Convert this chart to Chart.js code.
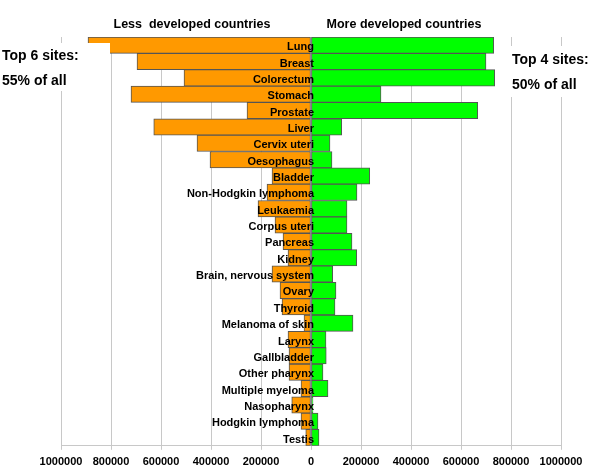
<!DOCTYPE html>
<html>
<head>
<meta charset="utf-8">
<script src="https://cdn.jsdelivr.net/npm/chart.js@4"></script>
<style>
  html, body { margin: 0; padding: 0; background: #fff; }
  #wrap { width: 600px; height: 471px; position: relative; }
</style>
</head>
<body>
<div id="wrap"><canvas id="chart"></canvas></div>
<script>
// Cancer sites, top to bottom
const sites = ['Lung', 'Breast', 'Colorectum', 'Stomach', 'Prostate', 'Liver', 'Cervix uteri',
  'Oesophagus', 'Bladder', 'Non-Hodgkin lymphoma', 'Leukaemia', 'Corpus uteri', 'Pancreas',
  'Kidney', 'Brain, nervous system', 'Ovary', 'Thyroid', 'Melanoma of skin', 'Larynx',
  'Gallbladder', 'Other pharynx', 'Multiple myeloma', 'Nasopharynx', 'Hodgkin lymphoma', 'Testis'];

// New cases, less developed countries (drawn to the left)
const lessDeveloped = [892000, 696000, 508000, 720000, 256000, 629000, 456000, 404000, 156000,
  176000, 212000, 144000, 112000, 92000, 156000, 124000, 116000, 28000, 92000, 88000, 88000,
  40000, 77000, 40000, 21000];

// New cases, more developed countries (drawn to the right)
const moreDeveloped = [731000, 700000, 735000, 280000, 667000, 123000, 76000, 84000, 235000,
  184000, 144000, 144000, 164000, 183000, 87000, 100000, 96000, 168000, 60000, 61000, 48000,
  68000, 8000, 28000, 32000];

const axisTicks = [-1000000, -800000, -600000, -400000, -200000, 0, 200000, 400000, 600000, 800000, 1000000];

const FONT = 'Arial, "Liberation Sans", sans-serif';

// Titles, site names and the two note boxes
const overlayPlugin = {
  id: 'overlay',
  afterDatasetsDraw(chart) {
    const ctx = chart.ctx;
    const x = chart.scales.x;
    const y = chart.scales.y;
    const zero = x.getPixelForValue(0);
    ctx.save();

    // site names, right aligned at the zero line
    ctx.fillStyle = '#000';
    ctx.font = 'bold 11px ' + FONT;
    ctx.textAlign = 'right';
    ctx.textBaseline = 'middle';
    sites.forEach((s, i) => {
      ctx.fillText(s, zero + 3, y.getPixelForValue(i) + 2);
    });

    // column titles
    ctx.font = 'bold 12.5px ' + FONT;
    ctx.textAlign = 'center';
    ctx.fillText('Less  developed countries', 192, 25);
    ctx.fillText('More developed countries', 404, 25);

    // note boxes
    ctx.fillStyle = '#fff';
    ctx.fillRect(0, 43, 110, 48);
    ctx.fillRect(509, 46, 91, 51);
    ctx.fillStyle = '#000';
    ctx.font = 'bold 14px ' + FONT;
    ctx.textAlign = 'left';
    ctx.fillText('Top 6 sites:', 2, 56);
    ctx.fillText('55% of all', 2, 81);
    ctx.fillText('Top 4 sites:', 512, 60);
    ctx.fillText('50% of all', 512, 85);
    ctx.restore();
  }
};

new Chart(document.getElementById('chart'), {
  type: 'bar',
  data: {
    labels: sites,
    datasets: [
      {
        label: 'Less developed countries',
        data: lessDeveloped.map(v => -v),
        backgroundColor: '#FF9900',
        borderColor: '#555555',
        borderWidth: 1,
        borderSkipped: false,
        barPercentage: 1,
        categoryPercentage: 1
      },
      {
        label: 'More developed countries',
        data: moreDeveloped,
        backgroundColor: '#00FF00',
        borderColor: '#555555',
        borderWidth: 1,
        borderSkipped: false,
        barPercentage: 1,
        categoryPercentage: 1
      }
    ]
  },
  options: {
    indexAxis: 'y',
    responsive: true,
    maintainAspectRatio: false,
    animation: false,
    layout: { padding: { left: 61, right: 39, top: 37, bottom: -4 } },
    plugins: {
      legend: { display: false },
      tooltip: { enabled: false }
    },
    scales: {
      x: {
        stacked: true,
        min: -1000000,
        max: 1000000,
        afterBuildTicks: axis => { axis.ticks = axisTicks.map(v => ({ value: v })); },
        grid: { color: '#c8c8c8', lineWidth: 1, tickLength: 4 },
        border: { display: true, color: '#c8c8c8' },
        ticks: {
          color: '#000',
          font: { family: FONT, size: 11, weight: 'bold' },
          maxRotation: 0,
          autoSkip: false,
          padding: 6,
          callback: v => String(Math.abs(v))
        }
      },
      y: {
        stacked: true,
        display: false,
        grid: { display: false }
      }
    }
  },
  plugins: [overlayPlugin]
});
</script>
</body>
</html>
